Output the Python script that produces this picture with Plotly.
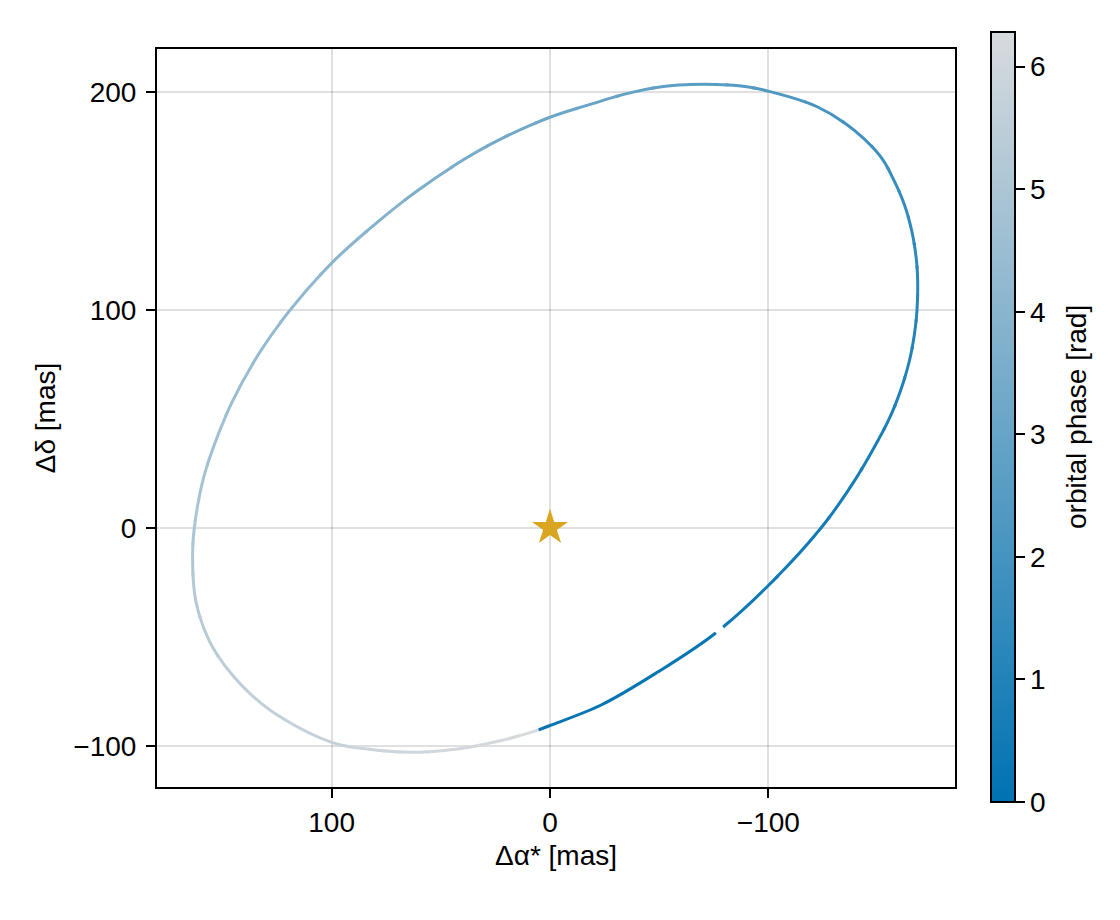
import math

import plotly.graph_objects as go
from plotly.colors import sample_colorscale

# orbit track, in order of increasing phase
ra_offset = [
    5.2, 0.0, -23.4, -49.3, -75.3, -99.9, -124.2, -139.5, -150.1, -155.6,
    -160.5, -164.6, -166.9, -168.1, -168.4, -167.7, -165.7, -162.3, -157.7, -151.6,
    -139.4, -122.6, -99.9, -87.5, -70.7, -53.9, -37.1, -18.8, 0.0, 22.4,
    39.3, 60.6, 79.0, 100.0, 118.7, 132.4, 145.3, 154.8, 159.4, 162.9,
    163.7, 162.2, 156.0, 144.6, 127.8, 100.0, 83.5, 63.7, 42.3, 22.4,
    5.2,
]
dec_offset = [
    -92.7, -90.7, -81.3, -66.2, -48.7, -26.6, 0.0, 21.6, 39.8, 50.5,
    62.7, 76.5, 88.7, 100.0, 113.2, 123.9, 136.1, 148.3, 159.0, 170.0,
    182.3, 193.0, 200.3, 202.6, 203.4, 202.6, 199.6, 194.3, 188.3, 178.4,
    169.0, 154.7, 140.2, 121.4, 100.3, 81.3, 58.3, 35.2, 20.0, 0.0,
    -13.7, -33.6, -52.0, -68.6, -83.9, -98.4, -101.5, -103.0, -101.5, -97.6,
    -92.7,
]
phase = [
    0.00, 0.02, 0.11, 0.23, 0.33, 0.45, 0.60, 0.71, 0.81, 0.87,
    0.94, 1.02, 1.10, 1.17, 1.27, 1.35, 1.45, 1.55, 1.66, 1.78,
    1.94, 2.14, 2.37, 2.48, 2.63, 2.78, 2.92, 3.07, 3.22, 3.41,
    3.55, 3.73, 3.89, 4.08, 4.27, 4.42, 4.60, 4.77, 4.87, 5.01,
    5.11, 5.25, 5.39, 5.53, 5.68, 5.86, 5.95, 6.04, 6.13, 6.21,
    6.28,
]
phase_ticks = [0, 1, 2, 3, 4, 5, 6]
x_ticks = [100, 0, -100]
y_ticks = [-100, 0, 100, 200]

PHASE_MAX = 2 * math.pi
colorscale = [[0.0, "#0072B2"], [1.0, "#D8DBDE"]]
FONT = "Liberation Sans, Arial, sans-serif"
FONT_SIZE = 28

WIDTH, HEIGHT = 1120, 920
MARGIN = dict(l=149, r=173, t=41, b=141)
X_RANGE = [180, -185.5]
Y_RANGE = [-118.9, 219.6]

# pixels per data unit, used only to cut the smooth orbit path into coloured pieces
px_x = (WIDTH - MARGIN["l"] - MARGIN["r"]) / abs(X_RANGE[1] - X_RANGE[0])
px_y = (HEIGHT - MARGIN["t"] - MARGIN["b"]) / abs(Y_RANGE[1] - Y_RANGE[0])

n = len(phase)
seg_len = [
    math.hypot((ra_offset[i + 1] - ra_offset[i]) * px_x, (dec_offset[i + 1] - dec_offset[i]) * px_y) * 1.003
    for i in range(n - 1)
]
seg_start = [sum(seg_len[:i]) for i in range(n - 1)]

START_PIECES = 4  # first intervals drawn as one plain trace on top


def phase_color(a, b):
    return sample_colorscale(colorscale, [(a + b) / 2 / PHASE_MAX])[0]


fig = go.Figure()

# plotly has no gradient lines: the whole orbit is drawn as one spline per
# piece and a dash pattern leaves only that piece visible, in its own colour
for i in range(START_PIECES, n - 1):
    extra = 25 if i == n - 2 else 3
    dash = f"0px,{seg_start[i] - 1.5:.2f}px,{seg_len[i] + extra:.2f}px,100000px"
    fig.add_trace(
        go.Scatter(
            x=ra_offset,
            y=dec_offset,
            mode="lines",
            line=dict(color=phase_color(phase[i], phase[i + 1]), width=3,
                      shape="spline", smoothing=1, simplify=False, dash=dash),
            showlegend=False,
            hoverinfo="skip",
        )
    )

# start of the orbit, on top so the join at the first point stays clean
fig.add_trace(
    go.Scatter(
        x=ra_offset[:START_PIECES + 2],
        y=dec_offset[:START_PIECES + 2],
        mode="lines",
        line=dict(color=phase_color(phase[0], phase[START_PIECES]), width=3,
                  shape="spline", smoothing=1, simplify=False,
                  dash=f"{seg_start[START_PIECES] + 1.5:.2f}px,100000px"),
        showlegend=False,
        hoverinfo="skip",
    )
)

# host star
fig.add_trace(
    go.Scatter(
        x=[0], y=[0], mode="markers",
        marker=dict(symbol="star", size=27, color="#DAA520", line=dict(width=0)),
        showlegend=False,
    )
)

# colorbar only
fig.add_trace(
    go.Scatter(
        x=[None], y=[None], mode="markers",
        marker=dict(
            colorscale=colorscale, cmin=0, cmax=PHASE_MAX, color=[0], showscale=True,
            colorbar=dict(
                tickvals=phase_ticks,
                ticks="outside", ticklen=9, tickwidth=2, tickcolor="black",
                tickfont=dict(size=FONT_SIZE, family=FONT, color="black"),
                thickness=24, len=1.043, lenmode="fraction",
                x=1.045, xanchor="left", y=0.5014, yanchor="middle",
                xpad=0, ypad=0, outlinewidth=2, outlinecolor="black",
            ),
        ),
        showlegend=False,
    )
)

fig.add_annotation(
    text="orbital phase [rad]", textangle=-90, showarrow=False,
    xref="paper", yref="paper", x=1.1525, y=0.501, xanchor="center", yanchor="middle",
    font=dict(size=FONT_SIZE, family=FONT, color="black"),
)

axis_common = dict(
    showline=True, mirror=True, linecolor="black", linewidth=2,
    ticks="outside", ticklen=9, tickwidth=2, tickcolor="black",
    showgrid=True, gridcolor="rgba(0,0,0,0.12)", gridwidth=2,
    zeroline=False,
    tickfont=dict(size=FONT_SIZE, family=FONT, color="black"),
)

fig.update_xaxes(
    range=X_RANGE, tickvals=x_ticks, ticktext=["100", "0", "\u2212100"],
    title=dict(text="\u0394\u03b1* [mas]", font=dict(size=FONT_SIZE, family=FONT, color="black"), standoff=9),
    **axis_common,
)
fig.update_yaxes(
    range=Y_RANGE, tickvals=y_ticks, ticktext=["\u2212100", "0", "100", "200"],
    title=dict(text="\u0394\u03b4 [mas]", font=dict(size=FONT_SIZE, family=FONT, color="black"), standoff=10),
    ticklabelstandoff=4,
    **axis_common,
)

fig.update_layout(
    width=WIDTH, height=HEIGHT,
    margin=dict(**MARGIN, autoexpand=False),
    plot_bgcolor="white", paper_bgcolor="white",
    font=dict(family=FONT, color="black"),
)

fig.write_html("out.html")
